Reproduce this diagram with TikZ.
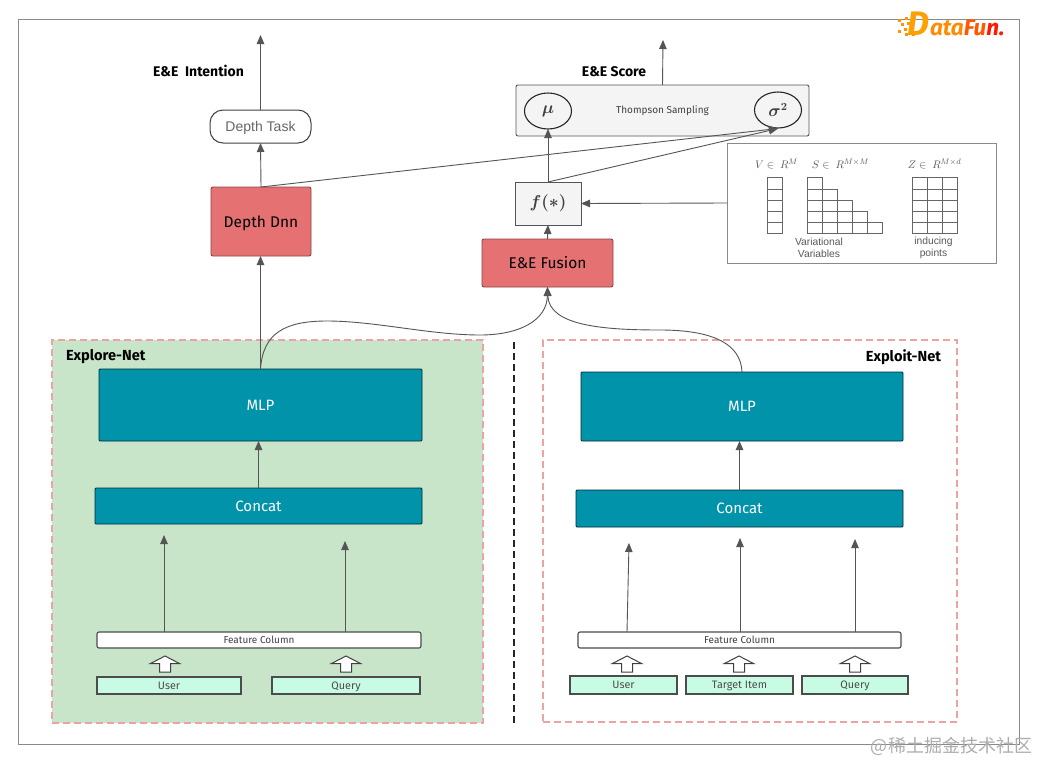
\documentclass[tikz,border=0pt]{standalone}
\usepackage[no-math]{fontspec}
\usepackage{amsmath}
\usepackage{bm}
\setmainfont{Fira Sans}
\newfontfamily\helv{Liberation Sans}
\newfontfamily\cjk{Noto Sans CJK SC}
\usetikzlibrary{arrows.meta,calc,shapes.geometric}
\definecolor{tealbox}{HTML}{0093A9}
\definecolor{redbox}{HTML}{E57172}
\definecolor{mint}{HTML}{C8FBE4}
\definecolor{greenbg}{HTML}{C8E5CA}
\definecolor{pinkdash}{HTML}{EBA3A3}
\definecolor{edgegray}{HTML}{555555}
\definecolor{boxgray}{HTML}{F4F4F4}
\definecolor{framegray}{HTML}{8A8A8A}
\tikzset{
  x=1pt,y=-1pt,
  base/.style={rectangle,inner sep=0pt,outer sep=0pt,align=center},
  conn/.style={draw=edgegray,line width=.9pt,-{Triangle[length=9pt,width=7.5pt]}},
  tealnode/.style={base,draw=black!70!tealbox,fill=tealbox,line width=.8pt,text=white,rounded corners=1pt,font=\fontsize{15}{17}\selectfont,text height=10.5pt,text depth=0pt},
  rednode/.style={base,draw=black!40!redbox,fill=redbox,line width=.9pt,rounded corners=2pt,text=black,font=\fontsize{15.5}{17}\selectfont,text height=11pt,text depth=0pt},
  graynode/.style={base,draw=edgegray,fill=boxgray,line width=.9pt,rounded corners=2pt,text=black!75},
  fcnode/.style={base,draw=black!70,fill=white,line width=1.1pt,rounded corners=2pt,font=\fontsize{10}{11}\selectfont,text=black!75,text height=7pt,text depth=1pt},
  mintnode/.style={base,draw=black!70,fill=mint,line width=1.1pt,font=\fontsize{10.8}{12}\selectfont,text=black!70,text height=7.5pt,text depth=0pt},
  dashbox/.style={base,draw=pinkdash,line width=1.3pt,dash pattern=on 7pt off 4pt},
  note/.style={inner sep=0pt,outer sep=0pt,align=center},
  titletext/.style={note,font=\bfseries\fontsize{14}{16}\selectfont},
  nettext/.style={note,font=\bfseries\fontsize{14.6}{16}\selectfont},
  gridcell/.style={draw=black!60,line width=.7pt},
  mathtext/.style={note,font=\fontsize{10.8}{12}\selectfont,text=black!65},
  smalltext/.style={note,font=\helv\fontsize{10.3}{12}\selectfont,text=black!65},
  circ/.style={ellipse,inner sep=0pt,outer sep=0pt,draw=black!85,fill=boxgray,line width=1.1pt,minimum width=47pt,minimum height=36pt,font=\fontsize{16}{18}\selectfont,text=black!75},
}
% name, x1, y1, x2, y2, style, text
\newcommand{\bx}[7]{\node[#6,minimum width=#4pt-#2pt,minimum height=#5pt-#3pt] (#1) at ({(#2+#4)/2},{(#3+#5)/2}) {#7};}
% hollow upward block arrow with its tip at x,y
\newcommand{\blockup}[2]{\draw[black!75,fill=white,line width=1pt,line join=miter]
  (#1,#2)--(#1+14.5,#2+7.5)--(#1+5.5,#2+7.5)--(#1+5.5,#2+16)--(#1-5.5,#2+16)--(#1-5.5,#2+7.5)--(#1-14.5,#2+7.5)--cycle;}
\begin{document}
\begin{tikzpicture}
\useasboundingbox (0,0) rectangle (1038,763);
\fill[white] (0,0) rectangle (1038,763);
% frame
\bx{frame}{18}{19}{1019}{744}{base,draw=framegray,line width=1pt}{}
% panels
\bx{explore}{52}{340}{483}{723}{dashbox,fill=greenbg}{}
\bx{exploit}{543}{340}{957}{722}{dashbox}{}
\coordinate (divtop) at (514,342);
\coordinate (divbot) at (514,725);
\draw[black!85,line width=1.2pt,dash pattern=on 7pt off 4pt] (divtop) -- (divbot);
\node[nettext,anchor=west] (explbl) at (66,357) {Explore-Net};
\node[nettext,anchor=east] (expllbl) at (941,357) {Exploit-Net};
% left column
\bx{mlpL}{99}{369}{422}{441}{tealnode}{MLP}
\bx{concatL}{95}{488}{422}{524}{tealnode}{Concat}
\bx{fcL}{97}{632}{421}{648}{fcnode}{Feature Column}
\bx{userL}{97}{677}{241}{694}{mintnode}{User}
\bx{queryL}{272}{677}{420}{694}{mintnode}{Query}
\blockup{165}{656}
\blockup{346}{656}
% right column
\bx{mlpR}{581}{372}{903}{441}{tealnode}{MLP}
\bx{concatR}{576}{490}{903}{527}{tealnode}{Concat}
\bx{fcR}{578}{632}{901}{648}{fcnode}{Feature Column}
\bx{userR}{570}{676}{677}{694}{mintnode}{User}
\bx{itemR}{686}{676}{793}{694}{mintnode}{Target Item}
\bx{queryR}{802}{676}{908}{694}{mintnode}{Query}
\blockup{627}{656}
\blockup{739}{656}
\blockup{855}{656}
% upper nodes
\bx{dnn}{211}{187}{311}{256}{rednode}{Depth Dnn}
\bx{task}{210}{110}{311}{143}{base,draw=black!75,fill=white,line width=1pt,rounded corners=13pt,font=\helv\fontsize{14}{16}\selectfont,text=black!60,text height=9pt,text depth=0pt}{Depth Task}
\bx{fusion}{482}{239}{613}{287}{rednode}{E\&E Fusion}
\bx{fstar}{515}{182}{581}{225}{graynode,sharp corners,font=\fontsize{16}{18}\selectfont}{$\bm{f(*)}$}
\bx{ts}{516}{85}{809}{136}{graynode,font=\fontsize{10}{12}\selectfont}{Thompson Sampling}
\node[circ] (mu) at (548,111) {$\bm{\mu}$};
\node[circ] (sig) at (778,110) {$\bm{\sigma^{2}}$};
\bx{vars}{727}{143}{996}{263}{base,draw=framegray,fill=white,line width=1pt}{}
% titles
\node[titletext] (t1) at (198.5,71) {E\&E\ \ Intention};
\node[titletext] (t2) at (614,72) {E\&E Score};
% free ends
\coordinate (outL) at (task.north |- 0,35);
\coordinate (outR) at (663,40);
\coordinate (a1) at (164,535);
\coordinate (a2) at (345,541);
\coordinate (b1) at (629,543);
\coordinate (b2) at (740,538);
\coordinate (b3) at (855,539);
\coordinate (s1) at (627,632);
\coordinate (sigtip) at (778,128.5);
% connectors
\draw[conn] (a1 |- fcL.north) -- (a1);
\draw[conn] (a2 |- fcL.north) -- (a2);
\draw[conn] (s1) -- (b1);
\draw[conn] (b2 |- fcR.north) -- (b2);
\draw[conn] (b3 |- fcR.north) -- (b3);
\draw[conn] (concatL.north) -- (concatL.north |- mlpL.south);
\draw[conn] (concatR.north) -- (concatR.north |- mlpR.south);
\draw[conn] (mlpL.north) -- (mlpL.north |- dnn.south);
\draw[conn] (dnn.north) -- (task.south);
\draw[conn] (task.north) -- (outL);
\draw[conn] (fusion.north) -- (fstar.south);
\draw[conn] (fstar.north) -- (mu.south);
\draw[conn] (fstar.north) -- (sigtip);
\draw[conn] (dnn.north) -- (sigtip);
\draw[conn] (vars.west) -- (fstar.east);
\draw[conn] (ts.north) -- (outR);
\draw[conn] (mlpL.north) .. controls (263,333) and (285,321) .. (327,321) .. controls (375,321) and (430,335) .. (480,335) .. controls (520,335) and (547,320) .. (fusion.south);
\draw[conn] (mlpR.north) .. controls (741,345) and (715,330) .. (660,330) .. controls (600,330) and (549,325) .. (fusion.south);
% variational grids
\foreach \rr in {0,...,4}{
  \draw[gridcell] (767,{177.7+\rr*11.2}) rectangle (782,{188.9+\rr*11.2});
  \foreach \cc in {0,...,\rr}{
    \draw[gridcell] ({807.3+\cc*15},{177.7+\rr*11.2}) rectangle ({822.3+\cc*15},{188.9+\rr*11.2});
  }
  \foreach \cc in {0,1,2}{
    \draw[gridcell] ({912+\cc*15.1},{177.7+\rr*11.2}) rectangle ({927.1+\cc*15.1},{188.9+\rr*11.2});
  }
}
\node[mathtext] (lv) at (776.5,163.5) {$V\in\ R^{M}$};
\node[mathtext] (ls) at (840.5,163.5) {$S\in\ R^{M\times M}$};
\node[mathtext] (lz) at (934.5,163.5) {$Z\in\ R^{M\times d}$};
\node[smalltext] (lvv) at (819,248) {Variational\\Variables};
\node[smalltext] (lip) at (933.5,248) {inducing\\points};
% logo
\foreach \px/\py in {898/19,905/17,901/23,907/22,904/28,910/28,898/30,912/33,905/33}{
  \fill[orange!85!yellow] (\px,\py) rectangle +(3,3);
}
\node[note,anchor=base west,font=\bfseries\itshape\fontsize{34}{36}\selectfont,text=orange!75!yellow] (logoD) at (907,35) {D};
\node[note,anchor=base west,font=\bfseries\itshape\fontsize{22.5}{24}\selectfont] (logo) at (930,35) {\textcolor{orange!90!yellow}{ata}\textcolor{orange!70!red}{Fu}\textcolor{red!80!orange}{n.}};
% watermark
\node[note,anchor=east,font=\cjk\fontsize{18}{20}\selectfont,text=black!32] (wm) at (1032,746) {@稀土掘金技术社区};
\end{tikzpicture}
\end{document}
